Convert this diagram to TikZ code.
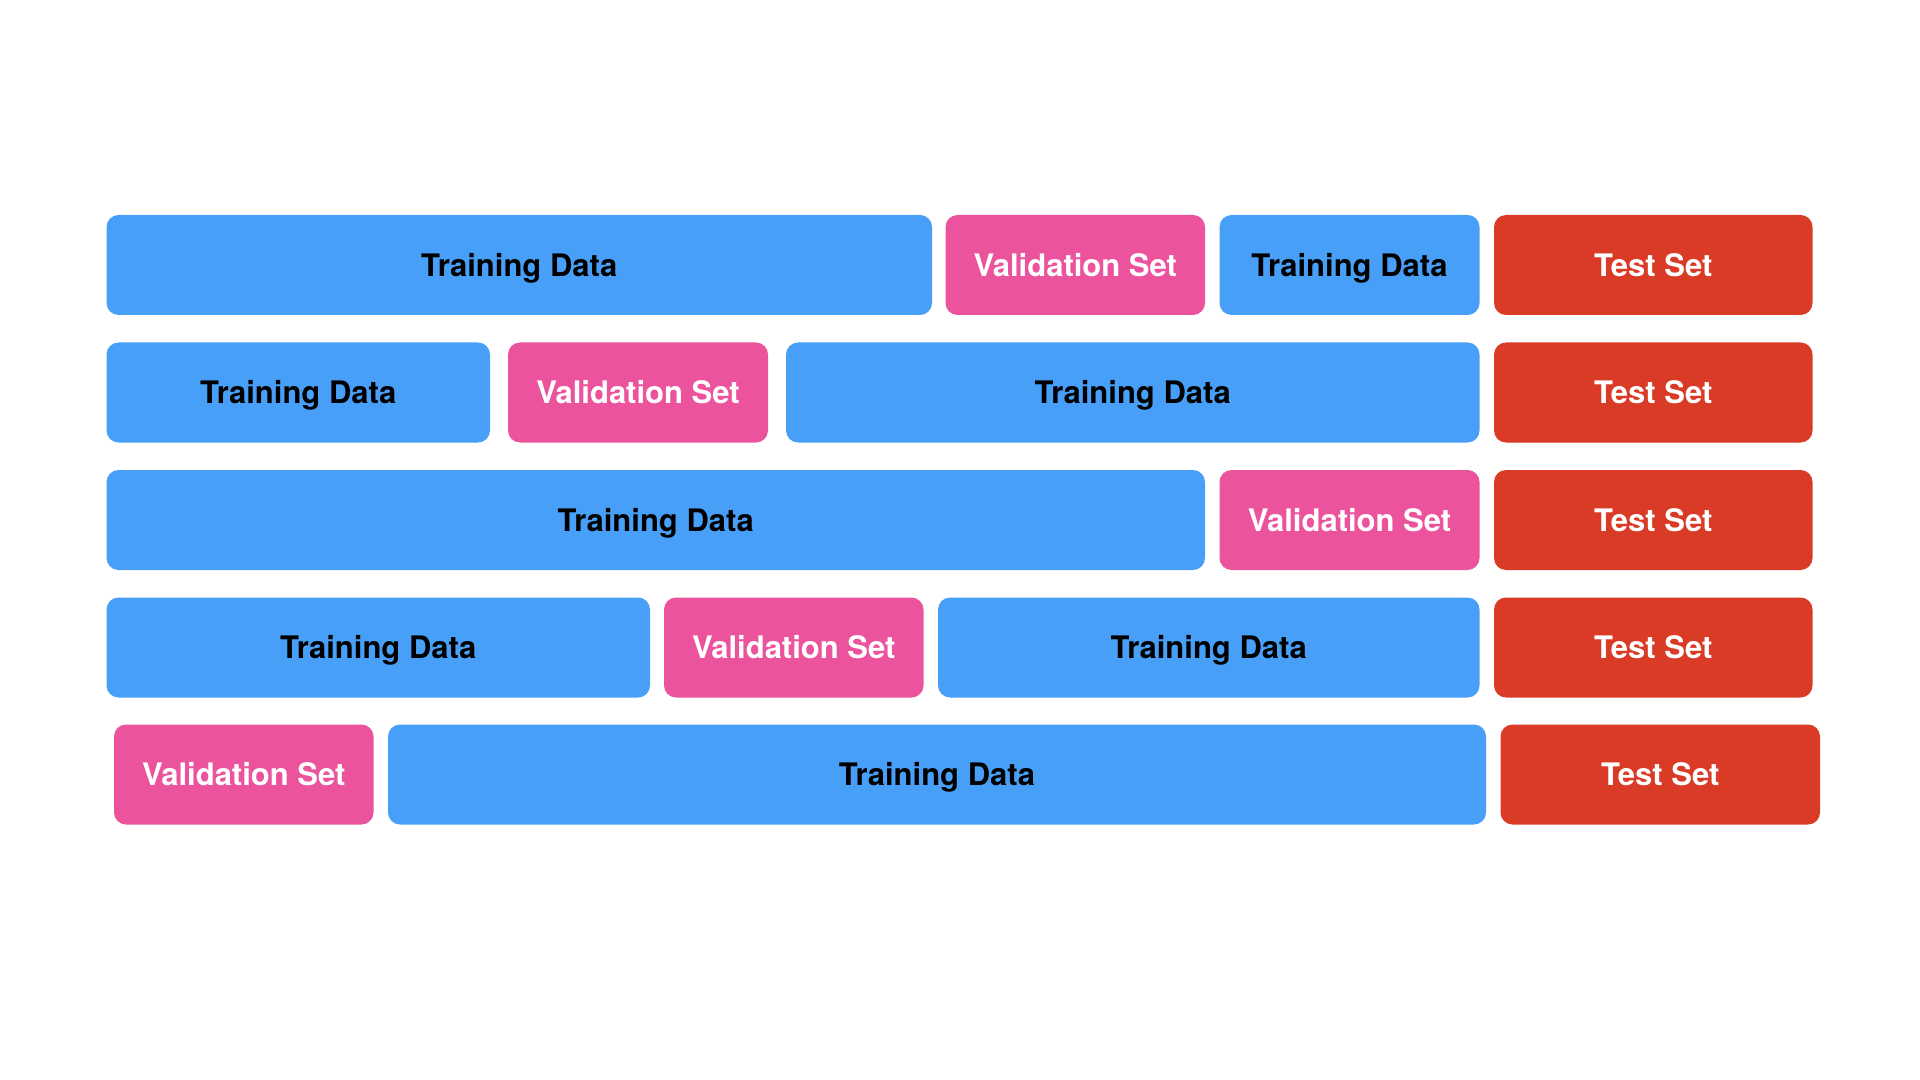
\documentclass[tikz,border=0pt]{standalone}
\usepackage{fontspec}
\setmainfont{TeX Gyre Heros}
\definecolor{trainblue}{HTML}{479FF8}
\definecolor{valpink}{HTML}{EB539D}
\definecolor{testred}{HTML}{DA3B26}
\newcommand\cell[6]{%
  \node[#2, minimum width={(#4-#3)*0.5pt}] (#1) at ({(#3+#4)/2},{#5+50}) {#6};}
\begin{document}
\begin{tikzpicture}[x=0.5pt,y=-0.5pt,
  box/.style={rectangle, rounded corners=6pt, inner sep=0pt, minimum height=50pt,
    text height=11.2pt, text depth=0pt,
    font=\fontsize{15.5pt}{18pt}\selectfont\bfseries},
  train/.style={box, fill=trainblue, text=black},
  val/.style={box, fill=valpink, text=white},
  test/.style={box, fill=testred, text=white}]
\useasboundingbox[fill=white] (0,0) rectangle (1920,1080);
% row 1
\cell{a1}{train}{106.5}{932}{215}{Training Data}
\cell{a2}{val}{945.5}{1205}{215}{Validation Set}
\cell{a3}{train}{1219.5}{1479.5}{215}{Training Data}
\cell{a4}{test}{1494}{1812.5}{215}{Test Set}
% row 2
\cell{b1}{train}{106.5}{490}{342.5}{Training Data}
\cell{b2}{val}{508}{768}{342.5}{Validation Set}
\cell{b3}{train}{786}{1479.5}{342.5}{Training Data}
\cell{b4}{test}{1494}{1812.5}{342.5}{Test Set}
% row 3
\cell{c1}{train}{106.5}{1205}{470}{Training Data}
\cell{c2}{val}{1219.5}{1479.5}{470}{Validation Set}
\cell{c3}{test}{1494}{1812.5}{470}{Test Set}
% row 4
\cell{d1}{train}{106.5}{650}{597.5}{Training Data}
\cell{d2}{val}{664}{923.5}{597.5}{Validation Set}
\cell{d3}{train}{938}{1479.5}{597.5}{Training Data}
\cell{d4}{test}{1494}{1812.5}{597.5}{Test Set}
% row 5
\cell{e1}{val}{114}{373.5}{724.5}{Validation Set}
\cell{e2}{train}{388}{1486}{724.5}{Training Data}
\cell{e3}{test}{1500.5}{1820}{724.5}{Test Set}
\end{tikzpicture}
\end{document}
